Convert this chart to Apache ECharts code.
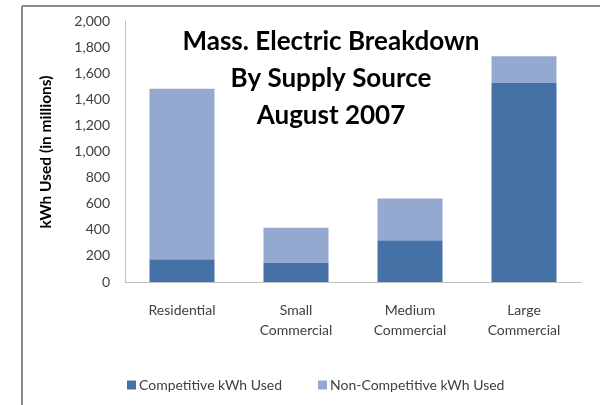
<!DOCTYPE html>
<html><head><meta charset="utf-8">
<script src="https://cdn.jsdelivr.net/npm/echarts@6/dist/echarts.min.js"></script>
<style>html,body{margin:0;padding:0;background:#fff}#c{width:602px;height:405px}</style>
</head><body><div id="c"></div>
<script>
var categories = ['Residential', 'Small\nCommercial', 'Medium\nCommercial', 'Large\nCommercial'];
var competitive = [175, 150, 320, 1525];
var nonCompetitive = [1305, 265, 320, 205];
var yTicks = [0, 200, 400, 600, 800, 1000, 1200, 1400, 1600, 1800, 2000];
var titleLines = ['Mass. Electric Breakdown', 'By Supply Source', 'August 2007'];

var chart = echarts.init(document.getElementById('c'), null, {renderer: 'canvas'});
var font = 'Lato, "Open Sans", sans-serif';
chart.setOption({
  animation: false,
  backgroundColor: '#fff',
  textStyle: {fontFamily: font},
  grid: {left: 125, right: 21, top: 21, bottom: 123, containLabel: false},
  graphic: [
    {type: 'line', shape: {x1: 22, y1: 6, x2: 600, y2: 6}, style: {stroke: '#8c8c8c', lineWidth: 2}},
    {type: 'line', shape: {x1: 22, y1: 6, x2: 22, y2: 405}, style: {stroke: '#8c8c8c', lineWidth: 2}},
    {type: 'text', style: {text: titleLines.join('\n'), x: 331, y: 23, align: 'center', font: 'bold 26px ' + font, lineHeight: 37, fill: '#000'}},
    {type: 'text', rotation: Math.PI / 2, x: 46, y: 152, style: {text: 'kWh Used (in millions)', align: 'center', verticalAlign: 'middle', font: 'bold 15.5px ' + font, fill: '#000'}}
  ],
  legend: {
    left: 122, top: 373, itemWidth: 9, itemHeight: 9, itemGap: 36, icon: 'rect',
    textStyle: {fontSize: 14, color: '#404040', fontFamily: font, padding: [0, 0, 0, -2]},
    data: ['Competitive kWh Used', 'Non-Competitive kWh Used']
  },
  xAxis: {
    type: 'category', data: categories,
    axisLine: {lineStyle: {color: '#bfbfbf', width: 1}},
    axisTick: {show: false},
    axisLabel: {interval: 0, margin: 18, color: '#404040', fontSize: 14, lineHeight: 20, fontFamily: font}
  },
  yAxis: {
    type: 'value', min: 0, max: 2000, interval: 200,
    axisLine: {show: true, lineStyle: {color: '#bfbfbf', width: 1}},
    axisTick: {show: false},
    splitLine: {show: false},
    axisLabel: {color: '#404040', fontSize: 14, margin: 15, fontFamily: font,
      formatter: function (v) { return yTicks.indexOf(v) >= 0 ? v.toLocaleString('en-US') : ''; }}
  },
  series: [
    {name: 'Competitive kWh Used', type: 'bar', stack: 's', data: competitive, barCategoryGap: '43%',
     itemStyle: {color: '#4571a6'}},
    {name: 'Non-Competitive kWh Used', type: 'bar', stack: 's', data: nonCompetitive, barCategoryGap: '43%',
     itemStyle: {color: '#94a9cf'}}
  ]
});
</script></body></html>
